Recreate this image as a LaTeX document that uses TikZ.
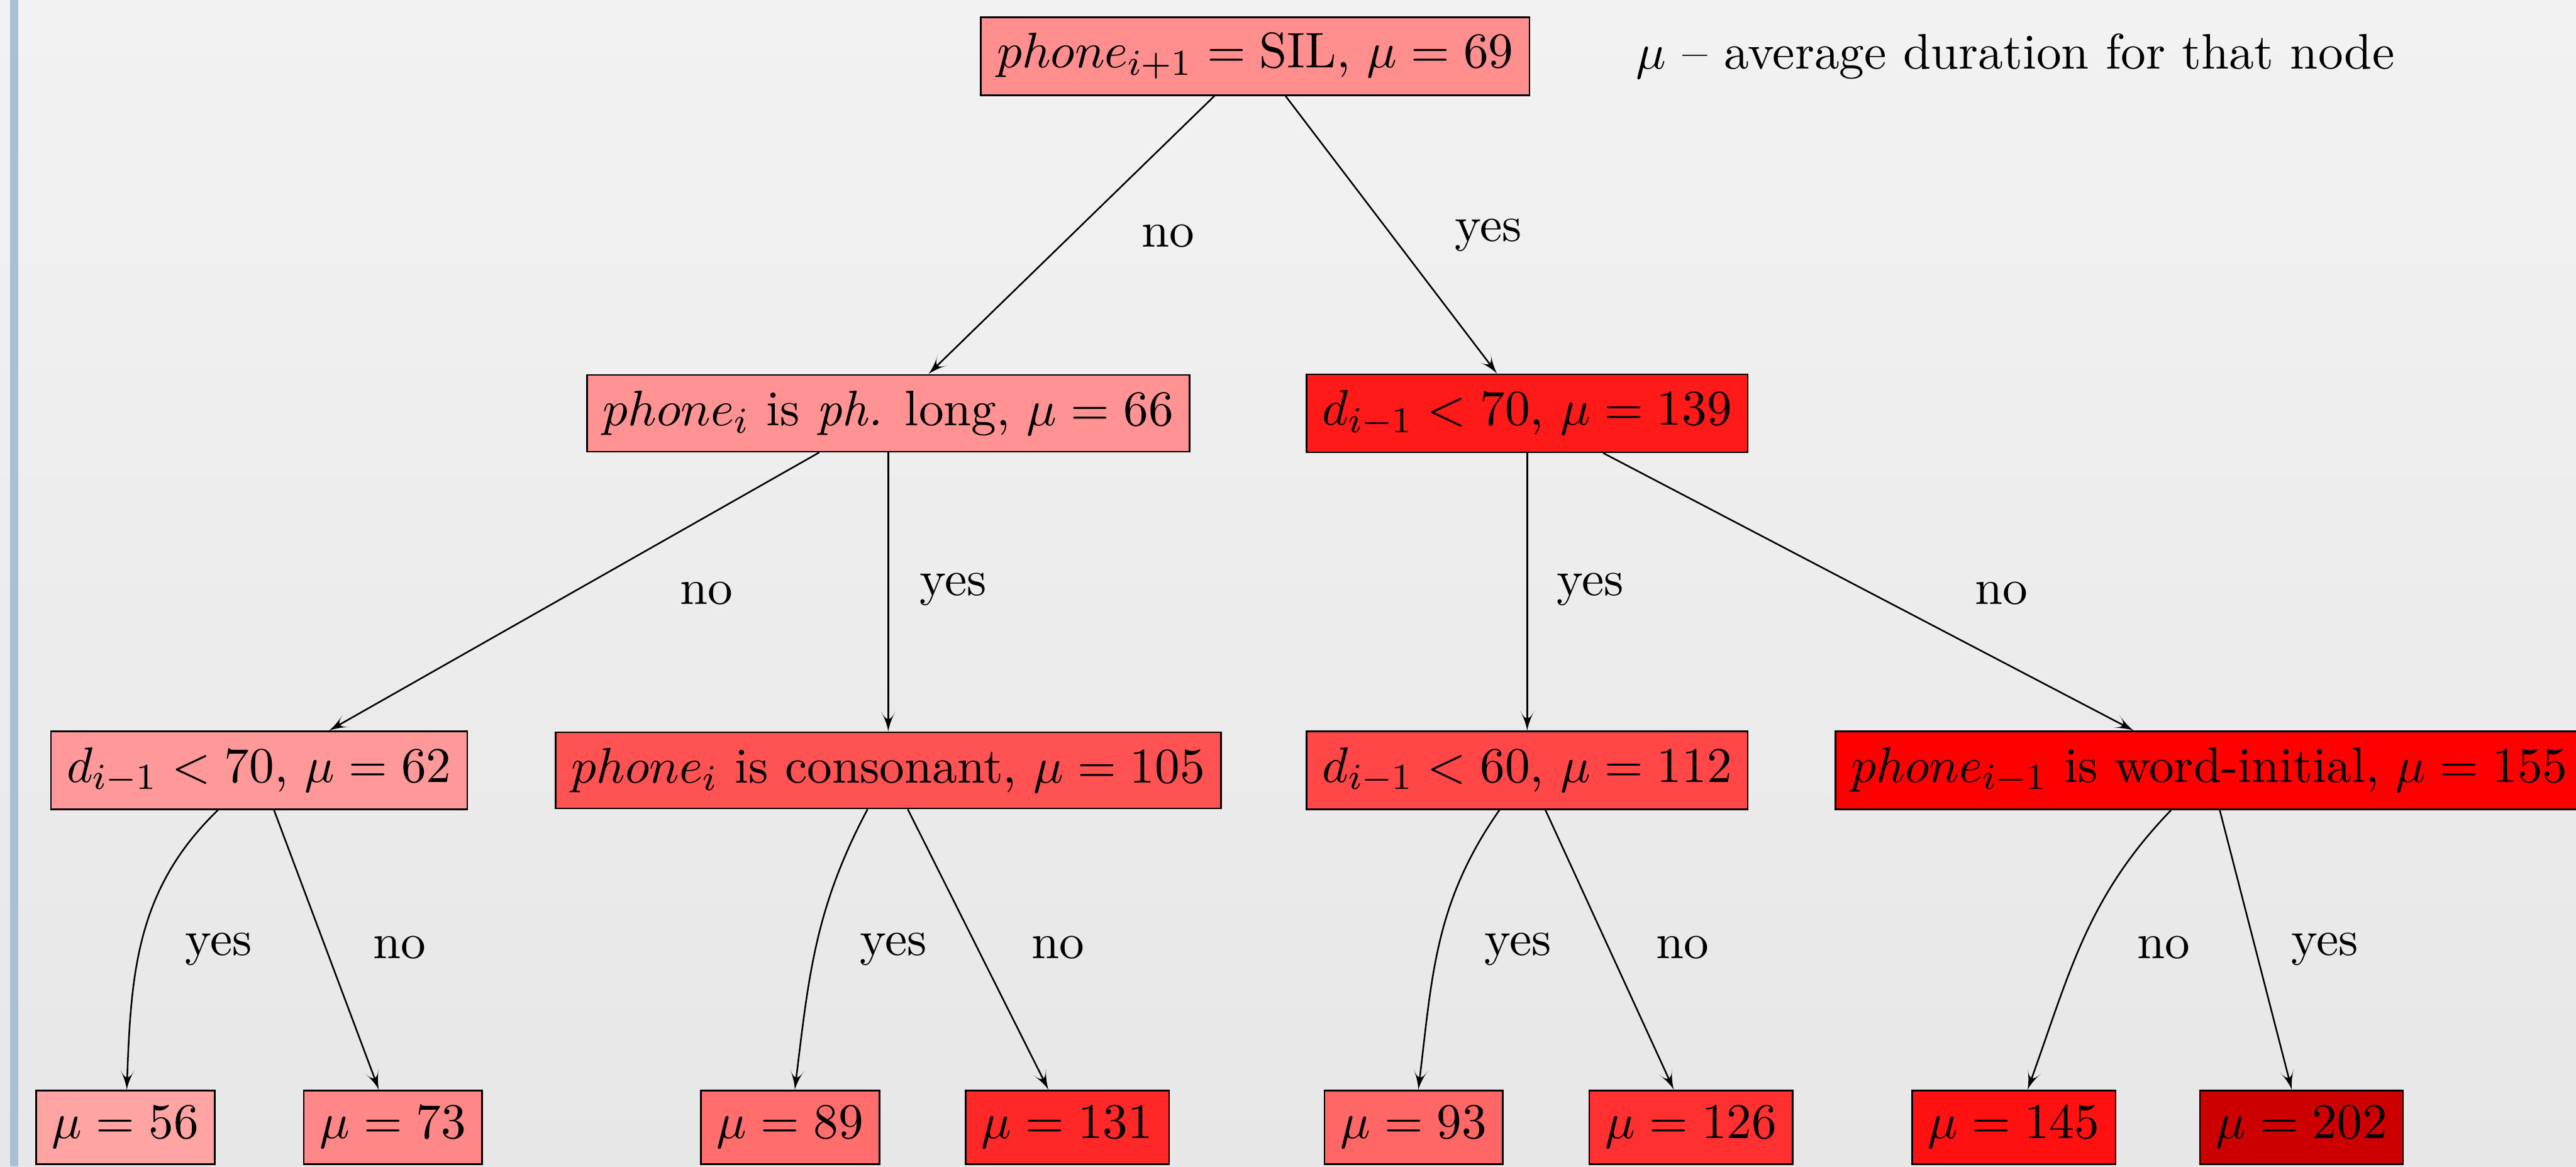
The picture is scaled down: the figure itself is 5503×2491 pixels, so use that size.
\documentclass[tikz,border=0pt]{standalone}

% slender barbed tip with concave flanks
\pgfarrowsdeclare{slimbarb}{slimbarb}
{
  \pgfarrowsleftextend{-3.3pt}
  \pgfarrowsrightextend{1.08pt}
}
{
  \pgfpathmoveto{\pgfqpoint{1.08pt}{0pt}}
  \pgfpathcurveto{\pgfqpoint{-0.27pt}{0.24pt}}{\pgfqpoint{-1.62pt}{0.71pt}}{\pgfqpoint{-3.24pt}{1.54pt}}
  \pgfpathcurveto{\pgfqpoint{-1.08pt}{0.47pt}}{\pgfqpoint{-1.08pt}{-0.47pt}}{\pgfqpoint{-3.24pt}{-1.54pt}}
  \pgfpathcurveto{\pgfqpoint{-1.62pt}{-0.71pt}}{\pgfqpoint{-0.27pt}{-0.24pt}}{\pgfqpoint{1.08pt}{0pt}}
  \pgfpathclose
  \pgfusepathqfill
}

\definecolor{bgtop}{RGB}{242,242,242}
\definecolor{bgbot}{RGB}{231,231,231}
\definecolor{barblue}{RGB}{168,191,212}
% fill shade grows with the average duration (mu/155)
\colorlet{c56}{red!36.1!white}
\colorlet{c62}{red!40!white}
\colorlet{c66}{red!42.6!white}
\colorlet{c69}{red!44.5!white}
\colorlet{c73}{red!47.1!white}
\colorlet{c89}{red!57.4!white}
\colorlet{c93}{red!60!white}
\colorlet{c105}{red!67.7!white}
\colorlet{c112}{red!72.3!white}
\colorlet{c126}{red!81.3!white}
\colorlet{c131}{red!84.5!white}
\colorlet{c139}{red!89.7!white}
\colorlet{c145}{red!93.5!white}
\colorlet{c155}{red}
\colorlet{c202}{red!80!black}

\tikzset{
  every node/.style={font=\fontsize{10.95pt}{13.6pt}\selectfont},
  tbox/.style={draw=black, line width=0.35pt, inner sep=3.5pt, fill=#1},
  lbl/.style={anchor=base, inner sep=0pt},
  link/.style={line width=0.35pt, -slimbarb},
}

\begin{document}
\begin{tikzpicture}[x=0.1027pt, y=0.1027pt]
  \useasboundingbox (0,0) rectangle (5503,-2491);
  \shade[top color=bgtop, bottom color=bgbot] (0,0) rectangle (5503,-2491);
  \fill[barblue] (21,0) rectangle (39,-2491);

  % root and legend
  \node[tbox=c69] (root) at (2681.5,-120) {$phone_{i+1} = \mathrm{SIL}$, $\mu = 69$};
  \node[anchor=base west, inner sep=0pt] (legend) at (3493,-147) {$\mu$ -- average duration for that node};

  % second level
  \node[tbox=c66] (a) at (1897.5,-882.5) {$phone_i$ is \textit{ph.} long, $\mu = 66$};
  \node[tbox=c139] (b) at (3262.5,-882.5) {$d_{i-1} < 70$, $\mu = 139$};

  % third level
  \node[tbox=c62] (c) at (553.5,-1645) {$d_{i-1} < 70$, $\mu = 62$};
  \node[tbox=c105] (d) at (1897.5,-1645) {$phone_i$ is consonant, $\mu = 105$};
  \node[tbox=c112] (e) at (3262.5,-1645) {$d_{i-1} < 60$, $\mu = 112$};
  \node[tbox=c155] (f) at (4720,-1645) {$phone_{i-1}$ is word-initial, $\mu = 155$};

  % leaves
  \node[tbox=c56]  (g) at (268,-2407.5)    {$\mu = 56$};
  \node[tbox=c73]  (h) at (839.5,-2407.5)  {$\mu = 73$};
  \node[tbox=c89]  (i) at (1688,-2407.5)   {$\mu = 89$};
  \node[tbox=c131] (j) at (2280,-2407.5)   {$\mu = 131$};
  \node[tbox=c93]  (k) at (3020,-2407.5)   {$\mu = 93$};
  \node[tbox=c126] (l) at (3612.5,-2407.5) {$\mu = 126$};
  \node[tbox=c145] (m) at (4302,-2407.5)   {$\mu = 145$};
  \node[tbox=c202] (n) at (4916.5,-2407.5) {$\mu = 202$};

  % connectors
  \draw[link] (root) -- (a);
  \draw[link] (root) -- (b);
  \draw[link] (a) -- (c);
  \draw[link] (a) -- (d);
  \draw[link] (b) -- (e);
  \draw[link] (b) -- (f);
  \draw[link] (c) to[out=224,in=88] (g);
  \draw[link] (c) -- (h);
  \draw[link] (d) to[out=242,in=83] (i);
  \draw[link] (d) -- (j);
  \draw[link] (e) to[out=235,in=83] (k);
  \draw[link] (e) -- (l);
  \draw[link] (f) to[out=226,in=70] (m);
  \draw[link] (f) -- (n);

  % branch labels
  \node[lbl] (l1)  at (2495,-527)  {no};
  \node[lbl] (l2)  at (3180,-515)  {yes};
  \node[lbl] (l3)  at (1509,-1290) {no};
  \node[lbl] (l4)  at (2036,-1272) {yes};
  \node[lbl] (l5)  at (3397,-1272) {yes};
  \node[lbl] (l6)  at (4275,-1290) {no};
  \node[lbl] (l7)  at (467,-2040)  {yes};
  \node[lbl] (l8)  at (853,-2047)  {no};
  \node[lbl] (l9)  at (1909,-2040) {yes};
  \node[lbl] (l10) at (2260,-2047) {no};
  \node[lbl] (l11) at (3243,-2040) {yes};
  \node[lbl] (l12) at (3594,-2047) {no};
  \node[lbl] (l13) at (4622,-2047) {no};
  \node[lbl] (l14) at (4966,-2040) {yes};
\end{tikzpicture}
\end{document}
